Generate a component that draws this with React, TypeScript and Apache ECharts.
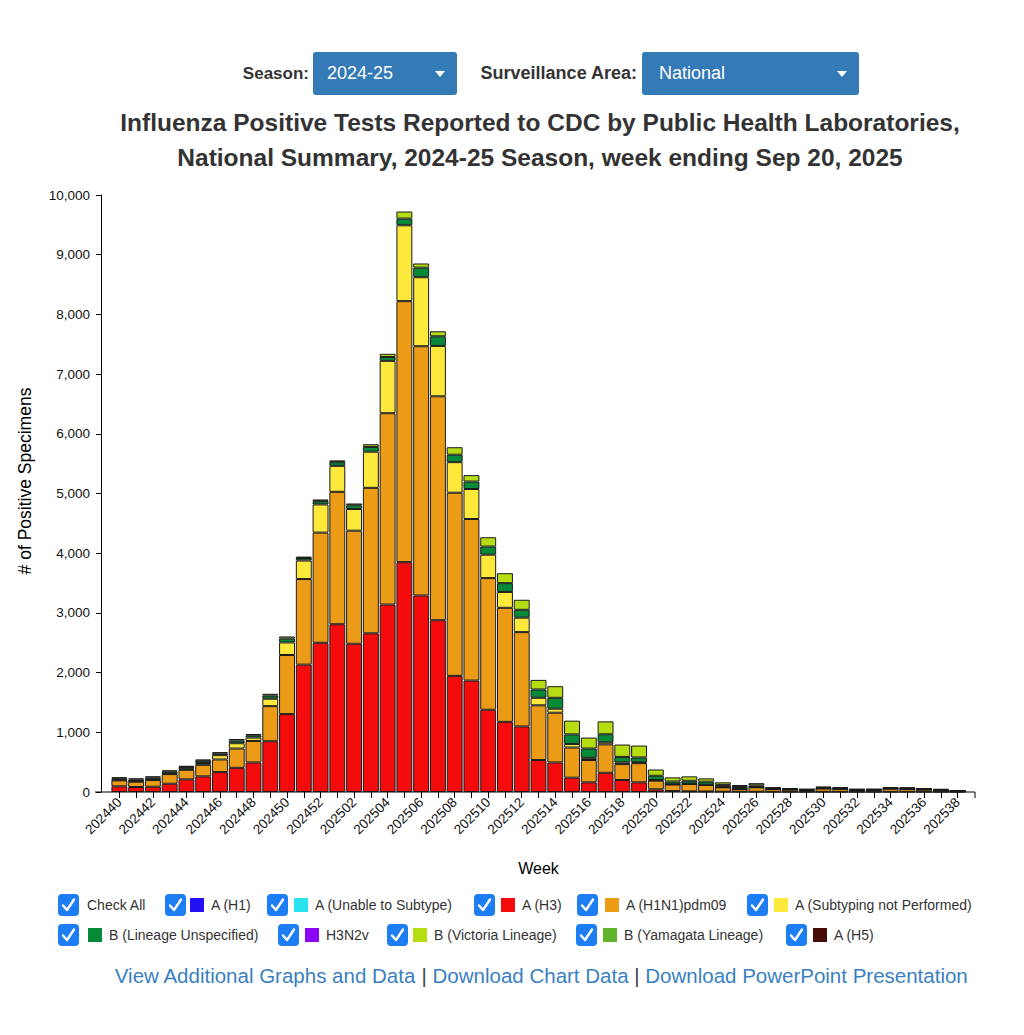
import React, { useEffect, useRef } from "react";
import * as echarts from "echarts";

// MMWR weeks of the 2024-25 season
const weeks = [
  "202440", "202441", "202442", "202443", "202444", "202445", "202446", "202447", "202448", "202449",
  "202450", "202451", "202452",
  "202501", "202502", "202503", "202504", "202505", "202506", "202507", "202508", "202509", "202510",
  "202511", "202512", "202513", "202514", "202515", "202516", "202517", "202518", "202519", "202520",
  "202521", "202522", "202523", "202524", "202525", "202526", "202527", "202528", "202529", "202530",
  "202531", "202532", "202533", "202534", "202535", "202536", "202537", "202538",
];

// Positive specimens per virus type, week by week
const aH1: number[] = [];
const aUnable: number[] = [];
const aH3 = [
  95, 83, 88, 138, 212, 262, 333, 405, 495, 850,
  1305, 2133, 2500,
  2810, 2483, 2658, 3140, 3850, 3292, 2877, 1945, 1867, 1378,
  1175, 1098, 535, 495, 240, 162, 322, 200, 162, 45,
  15, 10, 8, 5, 4, 4, 3, 2, 2, 3,
  3, 2, 2, 3, 3, 2, 2, 1,
];
const aH1N1pdm09 = [
  100, 89, 112, 162, 160, 193, 212, 323, 360, 588,
  990, 1434, 1845,
  2218, 1894, 2437, 3205, 4372, 4175, 3751, 3068, 2706, 2205,
  1910, 1580, 917, 833, 505, 374, 476, 267, 321, 145,
  110, 125, 110, 73, 46, 74, 47, 38, 30, 55,
  50, 30, 32, 52, 48, 38, 28, 14,
];
const aNotSubtyped = [
  10, 10, 12, 12, 16, 30, 72, 89, 57, 124,
  210, 310, 472,
  435, 363, 605, 877, 1270, 1156, 844, 512, 502, 392,
  266, 242, 126, 67, 60, 36, 35, 28, 15, 10,
  5, 5, 4, 4, 3, 3, 2, 2, 2, 3,
  2, 2, 1, 2, 2, 2, 2, 1,
];
const bUnspecified = [
  25, 28, 32, 32, 32, 38, 30, 45, 38, 53,
  65, 42, 55,
  62, 63, 80, 65, 113, 160, 161, 125, 125, 136,
  147, 132, 139, 183, 160, 156, 134, 93, 80, 72,
  45, 48, 50, 37, 30, 30, 14, 10, 8, 14,
  12, 8, 8, 11, 12, 10, 8, 5,
];
const h3n2v: number[] = [];
const bVictoria = [
  15, 18, 18, 18, 18, 22, 20, 26, 22, 30,
  35, 24, 28,
  30, 30, 45, 53, 118, 70, 84, 125, 108, 156,
  167, 168, 161, 194, 230, 184, 216, 207, 200, 105,
  70, 74, 56, 43, 34, 37, 12, 10, 8, 13,
  11, 8, 7, 10, 10, 10, 8, 4,
];
const bYamagata: number[] = [];
const aH5: number[] = [];

const yTicks = [0, 1000, 2000, 3000, 4000, 5000, 6000, 7000, 8000, 9000, 10000];

const seriesList = [
  { name: "A (H1)", color: "#2410f2", data: aH1 },
  { name: "A (Unable to Subtype)", color: "#2be3ef", data: aUnable },
  { name: "A (H3)", color: "#f40b0b", data: aH3 },
  { name: "A (H1N1)pdm09", color: "#ec9b17", data: aH1N1pdm09 },
  { name: "A (Subtyping not Performed)", color: "#fde83c", data: aNotSubtyped },
  { name: "B (Lineage Unspecified)", color: "#078a37", data: bUnspecified },
  { name: "H3N2v", color: "#8a05f5", data: h3n2v },
  { name: "B (Victoria Lineage)", color: "#b6dc12", data: bVictoria },
  { name: "B (Yamagata Lineage)", color: "#5fb42b", data: bYamagata },
  { name: "A (H5)", color: "#470b07", data: aH5 },
];

// Legend layout per series: checkbox x, swatch x, row
const legendSlots: Array<[number, number, number]> = [
  [165, 190, 0],
  [267, 294, 0],
  [474, 501, 0],
  [577, 605, 0],
  [747, 774, 0],
  [58, 88, 1],
  [278, 305, 1],
  [387, 413, 1],
  [576, 603, 1],
  [786, 813, 1],
];

const FONT = "'Liberation Sans', Arial, Helvetica, sans-serif";

function checkbox(x: number, yc: number) {
  return {
    type: "group",
    x,
    y: yc - 11,
    children: [
      { type: "rect", shape: { x: 0, y: 0, width: 21, height: 22, r: 4 }, style: { fill: "#1c7ef2" } },
      {
        type: "polyline",
        shape: { points: [[5, 11.5], [9, 16], [16, 5.5]] },
        style: { stroke: "#ffffff", lineWidth: 2.4, fill: null, lineCap: "round", lineJoin: "round" },
      },
    ],
  };
}

function dropdown(x: number, w: number, label: string, labelRight: number, fontSize: number) {
  return [
    {
      type: "text",
      x: labelRight,
      y: 73,
      style: { text: label, font: `bold ${fontSize}px ${FONT}`, fill: "#333", align: "right", verticalAlign: "middle" },
    },
    { type: "rect", shape: { x, y: 52, width: w, height: 43, r: 3 }, style: { fill: "#337ab7" } },
    {
      type: "polygon",
      shape: { points: [[x + w - 22, 71], [x + w - 12, 71], [x + w - 17, 77]] },
      style: { fill: "#ffffff" },
    },
  ];
}

export default function App() {
  const ref = useRef<HTMLDivElement>(null);

  useEffect(() => {
    if (!ref.current) return;
    const chart = echarts.init(ref.current, null, { renderer: "svg" });

    const legendRowsY = [905, 935];
    const legendGraphics: any[] = [];
    legendGraphics.push(checkbox(58, legendRowsY[0]));
    legendGraphics.push({
      type: "text",
      x: 87,
      y: legendRowsY[0],
      style: { text: "Check All", font: `14px ${FONT}`, fill: "#333", verticalAlign: "middle" },
    });
    seriesList.forEach((s, i) => {
      const [cx, sx, row] = legendSlots[i];
      const yc = legendRowsY[row];
      legendGraphics.push(checkbox(cx, yc));
      legendGraphics.push({
        type: "rect",
        shape: { x: sx, y: yc - 7, width: 14, height: 14 },
        style: { fill: s.color },
      });
      legendGraphics.push({
        type: "text",
        x: sx + 21,
        y: yc,
        style: { text: s.name, font: `14px ${FONT}`, fill: "#333", verticalAlign: "middle" },
      });
    });

    const option: any = {
      animation: false,
      backgroundColor: "#ffffff",
      textStyle: { fontFamily: FONT },
      grid: { left: 111, right: 58, top: 195, bottom: 243, containLabel: false },
      xAxis: {
        type: "category",
        data: weeks,
        name: "Week",
        nameLocation: "middle",
        nameGap: 68,
        nameTextStyle: { fontSize: 16, color: "#000", fontFamily: FONT },
        axisLine: { show: false },
        axisTick: { show: true, alignWithLabel: true, interval: 0, length: 6, lineStyle: { color: "#000" } },
        axisLabel: {
          interval: 1,
          rotate: 45,
          margin: 8,
          fontSize: 13.5,
          color: "#111",
          fontFamily: FONT,
        },
      },
      yAxis: {
        type: "value",
        min: yTicks[0],
        max: yTicks[yTicks.length - 1],
        interval: yTicks[1] - yTicks[0],
        offset: 10,
        splitLine: { show: false },
        axisLine: { show: true, lineStyle: { color: "#000" } },
        axisTick: { show: true, length: 5, lineStyle: { color: "#000" } },
        axisLabel: {
          margin: 11,
          fontSize: 13.5,
          color: "#111",
          fontFamily: FONT,
          formatter: (v: number) => v.toLocaleString("en-US"),
        },
      },
      series: seriesList.map((s) => ({
        name: s.name,
        type: "bar",
        stack: "total",
        barCategoryGap: "5%",
        data: s.data,
        itemStyle: { color: s.color, borderColor: "#1a1a1a", borderWidth: 1 },
        emphasis: { disabled: true },
      })),
      graphic: [
        // x-axis baseline spanning the full plotting range
        { type: "line", shape: { x1: 95, y1: 792, x2: 975, y2: 792 }, style: { stroke: "#000", lineWidth: 1 } },
        { type: "line", shape: { x1: 975, y1: 792, x2: 975, y2: 798 }, style: { stroke: "#000", lineWidth: 1 } },
        {
          type: "text",
          x: 25,
          y: 481,
          rotation: Math.PI / 2,
          style: {
            text: "# of Positive Specimens",
            font: `17.5px ${FONT}`,
            fill: "#000",
            align: "center",
            verticalAlign: "middle",
          },
        },
        ...dropdown(313, 144, "Season:", 309, 17),
        { type: "text", x: 327, y: 73, style: { text: "2024-25", font: `18px ${FONT}`, fill: "#fff", verticalAlign: "middle" } },
        ...dropdown(642, 217, "Surveillance Area:", 637, 18),
        { type: "text", x: 659, y: 73, style: { text: "National", font: `18px ${FONT}`, fill: "#fff", verticalAlign: "middle" } },
        {
          type: "text",
          x: 540,
          y: 122,
          style: {
            text: "Influenza Positive Tests Reported to CDC by Public Health Laboratories,",
            font: `bold 24.5px ${FONT}`,
            fill: "#333",
            align: "center",
            verticalAlign: "middle",
          },
        },
        {
          type: "text",
          x: 540,
          y: 157,
          style: {
            text: "National Summary, 2024-25 Season, week ending Sep 20, 2025",
            font: `bold 24.5px ${FONT}`,
            fill: "#333",
            align: "center",
            verticalAlign: "middle",
          },
        },
        ...legendGraphics,
        {
          type: "text",
          x: 541,
          y: 975,
          style: {
            text: "{a|View Additional Graphs and Data} {s||} {a|Download Chart Data} {s||} {a|Download PowerPoint Presentation}",
            align: "center",
            verticalAlign: "middle",
            font: `20.5px ${FONT}`,
            rich: {
              a: { fontSize: 20.5, fontFamily: FONT, fill: "#3a7fc0" },
              s: { fontSize: 20.5, fontFamily: FONT, fill: "#444" },
            },
          },
        },
      ],
    };

    chart.setOption(option);
    return () => chart.dispose();
  }, []);

  return (
    <div
      ref={ref}
      style={{ position: "absolute", left: 0, top: 0, width: 1024, height: 1035, background: "#fff" }}
    />
  );
}
